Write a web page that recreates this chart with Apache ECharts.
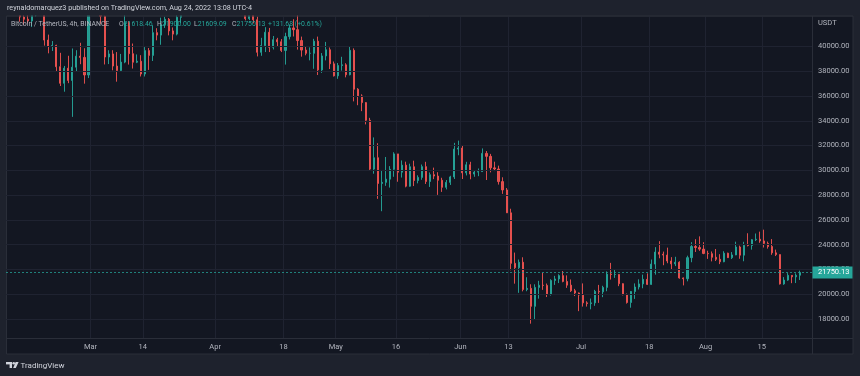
<!DOCTYPE html>
<html><head><meta charset="utf-8">
<script src="https://cdn.jsdelivr.net/npm/echarts@6/dist/echarts.min.js"></script>
<style>html,body{margin:0;padding:0;background:#1e222d;}#c{width:860px;height:376px;}</style>
</head><body><div id="c"></div><script>
// ---- data (BTC/USDT, daily bars) ----
const startDate = '2022-02-08';
const firstOpen = 43840;
const closes = [
 // Feb 8-28
 44380,44400,43500,42380,42200,42060,42540,44570,43870,40520,40000,40090,38370,37030,38250,37260,38330,39220,39120,37700,43190,
 // Mar
 44420,43900,42450,39150,39400,38420,38060,38740,41940,39420,38730,38810,37780,39670,39280,41120,40920,41760,42200,41260,41000,42360,42890,43960,44350,44500,46820,47130,47430,47060,45510,
 // Apr
 46280,45810,46400,46580,45500,43170,43440,42250,42750,42160,39530,40070,41150,39940,40550,40380,39680,40800,41500,41360,40480,39710,39450,39450,40430,38110,39240,39740,38600,37630,
 // May
 38470,38520,37720,39690,36550,36010,35470,34040,30100,31020,28940,29030,29290,30080,31330,29850,30420,28720,30290,29180,29430,30300,29100,29650,29540,29200,28630,29030,29470,31720,31800,
 // Jun
 29800,30450,29700,29860,29900,31370,31130,30200,30110,29090,28420,26570,22490,22140,22580,20380,20470,19020,20550,20720,20710,19990,21110,21230,21500,21030,20730,20280,20100,19930,
 // Jul
 19300,19240,19300,20230,20190,20550,21620,21590,21590,20850,19960,19330,20220,20580,20830,21200,20790,22430,23400,23230,23160,22680,22450,22580,21310,21250,22950,23850,23770,23640,23290,
 // Aug 1-24
 23270,22980,22820,22620,23310,22950,23170,23810,23150,23950,23930,24400,24440,24300,24100,23850,23340,23200,20830,21140,21520,21400,21530,21750
];
const highs = [
 45490,44800,45820,43920,43000,42750,42880,44770,44580,44180,40960,40440,40140,39490,38430,39250,39840,39700,40300,39860,44230,
 44950,45400,44100,42500,39700,39700,39550,39400,42600,42050,40240,39360,39300,39950,39880,41720,41480,42330,42400,42300,41540,43360,42900,44220,45100,44800,46920,48190,48100,47700,47600,
 46720,47210,47440,46890,47200,45510,43900,43970,42800,43410,42410,40700,41560,41500,40850,40700,40600,41110,41760,42200,42980,40800,39990,39930,40620,40800,39470,40370,39920,38790,
 38670,39170,38650,40020,39850,36640,36140,35510,34240,32660,32190,30030,31080,30340,31460,31330,30800,30700,30540,30780,29600,30470,30690,29830,30220,29850,29400,29220,29560,32220,32400,
 31980,30690,30690,29950,30150,31770,31560,31330,30700,30380,29440,28570,26900,23360,22800,22980,21370,20800,20800,21080,21720,20860,21210,21480,21610,21870,21520,21190,20430,20140,
 20870,19430,19650,20350,20750,20680,21840,22530,21950,21600,20880,20050,20250,20870,21200,21580,21680,22800,23800,24280,23440,23760,22990,23020,22660,21350,23110,24200,24440,24670,24200,
 23510,23450,23650,23230,23470,23350,23400,24240,23920,24230,24920,24450,24900,25050,25210,24250,24450,23600,23200,21380,21700,21530,21680,21900
];
const lows = [
 42670,43120,43200,42000,41750,41870,41570,42430,43320,40070,39450,39640,38000,36810,36350,37040,34320,38010,38570,37000,37450,
 42810,43330,41830,38550,38580,38080,37160,38000,38650,38540,38220,38660,37580,37580,38110,38830,40500,40140,41500,40900,40500,40900,41900,42540,43580,44070,44420,46660,46950,46600,45200,
 44210,45620,45520,45120,45350,43120,42730,42110,42130,41870,39200,39250,39550,39550,39760,40010,39550,38540,40570,40810,39750,39180,39290,38880,38200,37700,37870,38880,38180,37580,
 37390,38050,37510,37670,35570,35260,34780,33710,30030,29730,27700,26700,28750,28610,29480,29080,29420,28630,28680,28730,28950,29240,28900,28660,29290,28020,28260,28460,28820,29300,31220,
 29300,29590,29280,29480,29530,29870,29220,29840,29940,28850,28100,26560,21930,20850,20110,20230,20240,17620,17960,19640,20350,19770,19890,20750,20900,20960,20510,20180,19850,18630,
 19000,19000,18780,19060,19300,19760,20240,21180,21320,20650,19910,19240,18910,19620,20380,20480,20750,20760,21580,22900,22340,22500,21950,22270,21250,20710,21040,22580,23410,23500,23230,
 22850,22650,22680,22430,22580,22930,22840,23150,22860,22660,23860,23600,24290,24150,23770,23680,23180,23080,20780,20760,21080,20890,20900,21150
];
const priceTicks = [18000,20000,22000,24000,26000,28000,30000,32000,34000,36000,38000,40000];
const tickDates = ['2022-03-01','2022-03-14','2022-04-01','2022-04-18','2022-05-01','2022-05-16','2022-06-01','2022-06-13','2022-07-01','2022-07-18','2022-08-01','2022-08-15'];
const tickTexts = ['Mar','14','Apr','18','May','16','Jun','13','Jul','18','Aug','15'];
const lastPrice = 21750.13;
const legendLabels = ['O','H','L','C'];
const legendValues = ['21618.46','21900.00','21609.09','21750.13'];
const legendChange = '+131.68 (+0.61%)';

// ---- build ----
const DAY0 = Date.UTC(2022, 2, 1);
function dayOf(s){ const p = s.split('-'); return (Date.UTC(+p[0], +p[1]-1, +p[2]) - DAY0) / 86400000; }
const start = dayOf(startDate);
const candles = closes.map((c, i) => [start + i + 0.5, i === 0 ? firstOpen : closes[i-1], c, lows[i], highs[i]]);
const tickDays = tickDates.map(dayOf);
const labelMap = {}; tickDays.forEach((d, i) => { labelMap[d] = tickTexts[i]; });

const FONT = 'Roboto, "Noto Sans", sans-serif';
const LF = 6.9;
const UP = '#26a69a', DOWN = '#ef5350';
const chart = echarts.init(document.getElementById('c'));
chart.setOption({
  backgroundColor: '#1e222d',
  animation: false,
  grid: { left: 6, right: 48, top: 16, bottom: 38 },
  xAxis: {
    type: 'value', min: -21.02, max: 179.48,
    axisLine: { show: false }, axisTick: { show: false, customValues: tickDays },
    splitLine: { show: false },
    axisLabel: { customValues: tickDays, formatter: v => labelMap[v] || '', color: '#b2b5be', fontSize: 7.5, fontFamily: FONT, margin: 5 }
  },
  yAxis: {
    type: 'value', position: 'right', min: 16463, max: 42463,
    axisLine: { show: false }, axisTick: { show: false, customValues: priceTicks },
    splitLine: { show: false },
    axisLabel: { customValues: priceTicks, formatter: v => v.toFixed(2), color: '#b2b5be', fontSize: 7.5, fontFamily: FONT, margin: 6 }
  },
  series: [
    { type: 'line', data: [], z: 1, silent: true,
      markLine: { silent: true, symbol: ['none','none'], label: { show: false },
        lineStyle: { color: '#1f2331', width: 1, type: 'solid' },
        data: priceTicks.map(v => ({ yAxis: v })).concat(tickDays.map(d => ({ xAxis: d }))) } },
    { type: 'candlestick', z: 3, barWidth: 1.6, data: candles, encode: { x: 0, y: [1,2,3,4] }, clip: true,
      itemStyle: { color: UP, color0: DOWN, borderColor: UP, borderColor0: DOWN, borderWidth: 1, opacity: 0.92 },
      markLine: { silent: true, symbol: ['none','none'], label: { show: false },
        lineStyle: { color: UP, width: 1, type: [2,2], opacity: 0.75 },
        data: [{ yAxis: lastPrice }] } }
  ]
});

const yLast = chart.convertToPixel({ yAxisIndex: 0 }, lastPrice);
const legendX = [119, 157, 194, 232];
const legendEls = [];
legendLabels.forEach((l, i) => {
  legendEls.push({ type: 'text', z: 20, x: legendX[i], y: 24, style: { text: '{n|' + l + '}{v|' + legendValues[i] + '}', verticalAlign: 'middle', font: LF + 'px ' + FONT,
    rich: { n: { fill: '#b2b5be', fontSize: LF, fontFamily: FONT }, v: { fill: UP, fontSize: LF, fontFamily: FONT } } } });
});
legendEls.push({ type: 'text', z: 20, x: 268, y: 24, style: { text: legendChange, fill: UP, font: LF + 'px ' + FONT, verticalAlign: 'middle' } });

chart.setOption({ graphic: [
  { type: 'rect', z: -10, shape: { x: 6.5, y: 16, width: 846.5, height: 338 }, style: { fill: '#131722', stroke: '#2a2e39', lineWidth: 1 } },
  { type: 'rect', z: 25, shape: { x: 0, y: 0, width: 860, height: 15.5 }, style: { fill: '#1e222d' } },
  { type: 'line', z: 26, shape: { x1: 6.5, y1: 16, x2: 853, y2: 16 }, style: { stroke: '#2a2e39', lineWidth: 1 } },
  { type: 'line', z: 10, shape: { x1: 812.5, y1: 16, x2: 812.5, y2: 354 }, style: { stroke: '#2a2e39', lineWidth: 1 } },
  { type: 'line', z: 10, shape: { x1: 6.5, y1: 338.5, x2: 853, y2: 338.5 }, style: { stroke: '#2a2e39', lineWidth: 1 } },
  { type: 'text', z: 27, x: 7, y: 8, style: { text: 'reynaldomarquez3 published on TradingView.com, Aug 24, 2022 13:08 UTC-4', fill: '#d1d4dc', font: '7.2px ' + FONT, verticalAlign: 'middle' } },
  { type: 'text', z: 20, x: 11, y: 24, style: { text: 'Bitcoin / TetherUS, 4h, BINANCE', fill: '#b2b5be', font: LF + 'px ' + FONT, verticalAlign: 'middle' } }
].concat(legendEls).concat([
  { type: 'text', z: 20, x: 818, y: 23, style: { text: 'USDT', fill: '#b2b5be', font: '7.5px ' + FONT, verticalAlign: 'middle' } },
  { type: 'rect', z: 30, shape: { x: 812.5, y: yLast - 6, width: 40, height: 12 }, style: { fill: UP } },
  { type: 'text', z: 31, x: 818, y: yLast, style: { text: lastPrice.toFixed(2), fill: '#ffffff', font: '7.5px ' + FONT, verticalAlign: 'middle' } },
  // TradingView footer logo
  { type: 'rect', z: 20, shape: { x: 6, y: 362, width: 6, height: 2.4 }, style: { fill: '#d1d4dc' } },
  { type: 'rect', z: 20, shape: { x: 9.6, y: 362, width: 2.4, height: 6 }, style: { fill: '#d1d4dc' } },
  { type: 'circle', z: 20, shape: { cx: 13.7, cy: 363.3, r: 1.3 }, style: { fill: '#d1d4dc' } },
  { type: 'polygon', z: 20, shape: { points: [[15.6,362],[18.6,362],[15.8,368],[13.2,368]] }, style: { fill: '#d1d4dc' } },
  { type: 'text', z: 20, x: 20.5, y: 365.5, style: { text: 'TradingView', fill: '#d1d4dc', font: '8px ' + FONT, verticalAlign: 'middle' } }
])});
</script></body></html>
